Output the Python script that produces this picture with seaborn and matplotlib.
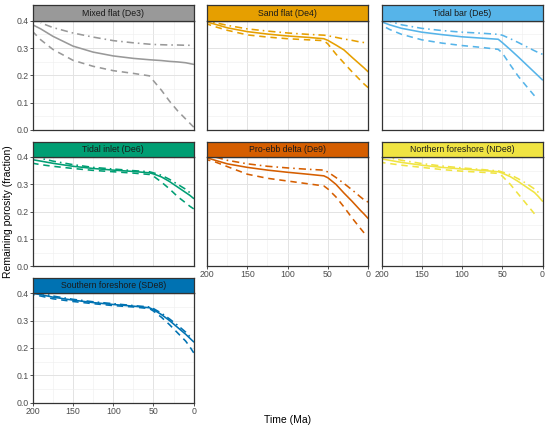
import numpy as np
import pandas as pd
import matplotlib
matplotlib.use("Agg")
import matplotlib.pyplot as plt
import seaborn as sns
from matplotlib.ticker import MultipleLocator

sns.set_theme(style="white")
plt.rcParams["font.family"] = ["Liberation Sans", "DejaVu Sans"]

N = None
TIME = [200, 190, 175, 150, 125, 100, 75, 55, 50, 40, 30, 20, 10, 5, 0]

FACIES = ["Mixed flat (De3)", "Sand flat (De4)", "Tidal bar (De5)", "Tidal inlet (De6)",
          "Pro-ebb delta (De9)", "Northern foreshore (NDe8)", "Southern foreshore (SDe8)"]
COLORS = ["#999999", "#E69F00", "#56B4E9", "#009E73", "#D55E00", "#F0E442", "#0072B2"]
CASES = ["solid", "dashed", "dotdash"]

# Mixed flat (De3)
DE3_SOLID = [0.385, 0.37, 0.343, 0.307, 0.285, 0.271, 0.262, 0.257, 0.256, 0.254, 0.251, 0.249, 0.246, 0.243, 0.240]
DE3_DASHED = [0.36, 0.33, 0.295, 0.255, 0.233, 0.217, 0.207, 0.198, 0.18, 0.145, 0.105, 0.07, 0.04, 0.025, 0.01]
DE3_DOTDASH = [N, 0.392, 0.375, 0.355, 0.34, 0.327, 0.319, 0.314, 0.313, 0.312, 0.311, 0.311, 0.31, 0.31, N]
# Sand flat (De4)
DE4_SOLID = [0.395, 0.387, 0.374, 0.36, 0.351, 0.344, 0.339, 0.334, 0.328, 0.311, 0.293, 0.266, 0.24, 0.227, 0.213]
DE4_DASHED = [0.388, 0.378, 0.365, 0.348, 0.34, 0.334, 0.33, 0.327, 0.315, 0.278, 0.245, 0.213, 0.183, 0.168, 0.155]
DE4_DOTDASH = [0.399, 0.393, 0.383, 0.37, 0.362, 0.355, 0.35, 0.347, 0.345, 0.339, 0.333, 0.328, 0.322, 0.32, N]
# Tidal bar (De5)
DE5_SOLID = [0.396, 0.385, 0.372, 0.358, 0.349, 0.341, 0.336, 0.332, 0.32, 0.294, 0.267, 0.239, 0.211, 0.197, 0.183]
DE5_DASHED = [0.384, 0.368, 0.35, 0.33, 0.318, 0.309, 0.302, 0.295, 0.282, 0.238, 0.196, 0.16, 0.125, N, N]
DE5_DOTDASH = [N, 0.398, 0.385, 0.372, 0.364, 0.358, 0.354, 0.35, 0.347, 0.334, 0.32, 0.305, 0.29, 0.283, 0.277]
# Tidal inlet (De6)
DE6_SOLID = [0.39, 0.385, 0.377, 0.366, 0.358, 0.352, 0.347, 0.342, 0.338, 0.327, 0.31, 0.29, 0.27, 0.26, 0.248]
DE6_DASHED = [0.377, 0.372, 0.366, 0.358, 0.351, 0.346, 0.341, 0.336, 0.33, 0.308, 0.283, 0.255, 0.232, 0.22, 0.21]
DE6_DOTDASH = [N, 0.395, 0.385, 0.372, 0.362, 0.356, 0.35, 0.346, 0.342, 0.333, 0.318, 0.3, 0.282, 0.27, N]
# Pro-ebb delta (De9)
DE9_SOLID = [0.397, 0.388, 0.375, 0.362, 0.352, 0.344, 0.337, 0.331, 0.324, 0.3, 0.268, 0.238, 0.206, 0.191, 0.175]
DE9_DASHED = [0.39, 0.382, 0.365, 0.337, 0.322, 0.312, 0.302, 0.294, 0.283, 0.254, 0.217, 0.177, 0.14, 0.122, N]
DE9_DOTDASH = [N, 0.4, 0.388, 0.375, 0.366, 0.36, 0.355, 0.352, 0.345, 0.325, 0.303, 0.28, 0.255, 0.243, 0.235]
# Northern foreshore (NDe8)
NDE8_SOLID = [0.393, 0.388, 0.38, 0.37, 0.362, 0.356, 0.351, 0.346, 0.341, 0.328, 0.31, 0.29, 0.27, 0.255, 0.238]
NDE8_DASHED = [0.38, 0.376, 0.37, 0.362, 0.354, 0.348, 0.344, 0.34, 0.33, 0.3, 0.264, 0.228, 0.192, N, N]
NDE8_DOTDASH = [N, 0.397, 0.388, 0.376, 0.367, 0.36, 0.354, 0.349, 0.345, 0.335, 0.32, 0.303, 0.283, 0.27, N]
# Southern foreshore (SDe8)
SDE8_SOLID = [0.4, 0.395, 0.386, 0.375, 0.366, 0.359, 0.353, 0.347, 0.34, 0.322, 0.3, 0.275, 0.25, 0.236, 0.222]
SDE8_DASHED = [0.395, 0.39, 0.38, 0.37, 0.362, 0.355, 0.35, 0.344, 0.335, 0.312, 0.285, 0.255, 0.225, 0.205, 0.182]
SDE8_DOTDASH = [N, 0.4, 0.39, 0.378, 0.369, 0.362, 0.355, 0.35, 0.344, 0.327, 0.306, 0.283, 0.258, 0.242, N]

SERIES = [
    (DE3_SOLID, DE3_DASHED, DE3_DOTDASH),
    (DE4_SOLID, DE4_DASHED, DE4_DOTDASH),
    (DE5_SOLID, DE5_DASHED, DE5_DOTDASH),
    (DE6_SOLID, DE6_DASHED, DE6_DOTDASH),
    (DE9_SOLID, DE9_DASHED, DE9_DOTDASH),
    (NDE8_SOLID, NDE8_DASHED, NDE8_DOTDASH),
    (SDE8_SOLID, SDE8_DASHED, SDE8_DOTDASH),
]

rows = []
for fac, trio in zip(FACIES, SERIES):
    for case, vals in zip(CASES, trio):
        for t, v in zip(TIME, vals):
            if v is not None:
                rows.append({"facies": fac, "case": case, "time": t, "porosity": v})
df = pd.DataFrame(rows)

W, H = 550, 429
fig = plt.figure(figsize=(W / 100, H / 100), dpi=100)

col_left = [32.7, 207.1, 381.5]
pw = 161.0
row_top = [20.7, 157.0, 293.3]
ph = 109.2
sh = 15.3
edge = "#333333"
dash_map = {"solid": "", "dashed": (4, 3), "dotdash": (1, 2.5, 4.5, 2.5)}

for i, (fac, col) in enumerate(zip(FACIES, COLORS)):
    r, c = divmod(i, 3)
    l, t = col_left[c], row_top[r]
    ax = fig.add_axes([l / W, 1 - (t + ph) / H, pw / W, ph / H])
    sub = df[df["facies"] == fac]
    sns.lineplot(data=sub, x="time", y="porosity", style="case", style_order=CASES,
                 dashes=dash_map, color=col, linewidth=1.15, legend=False, ax=ax)
    ax.set_xlim(200, 0)
    ax.set_ylim(0, 0.4)
    ax.xaxis.set_major_locator(MultipleLocator(50))
    ax.xaxis.set_minor_locator(MultipleLocator(25))
    ax.yaxis.set_major_locator(MultipleLocator(0.1))
    ax.yaxis.set_minor_locator(MultipleLocator(0.05))
    ax.grid(which="major", color="#E3E3E3", linewidth=0.7)
    ax.grid(which="minor", color="#EEEEEE", linewidth=0.4)
    ax.set_axisbelow(True)
    for s in ax.spines.values():
        s.set_color(edge)
        s.set_linewidth(0.9)
    ax.set_xlabel("")
    ax.set_ylabel("")
    show_x = (i >= 4)
    show_y = (c == 0)
    ax.tick_params(axis="x", which="major", bottom=show_x, labelbottom=show_x,
                   length=2, width=0.6, color=edge, pad=1, labelsize=6.3, labelcolor="#4D4D4D")
    ax.tick_params(axis="y", which="major", left=show_y, labelleft=show_y,
                   length=2, width=0.6, color=edge, pad=1, labelsize=6.3, labelcolor="#4D4D4D")
    ax.tick_params(which="minor", length=0)
    if show_y:
        ax.set_yticklabels([f"{v:.1f}" for v in ax.get_yticks()])
    if show_x:
        ax.set_xticklabels([f"{int(v)}" for v in ax.get_xticks()])

    sax = fig.add_axes([l / W, 1 - t / H, pw / W, sh / H])
    sax.set_facecolor(col)
    sax.set_xticks([])
    sax.set_yticks([])
    for s in sax.spines.values():
        s.set_color(edge)
        s.set_linewidth(0.9)
    sax.text(0.5, 0.5, fac, ha="center", va="center", fontsize=6.3, color="#1A1A1A",
             transform=sax.transAxes)

fig.text(8 / W, 1 - 211.5 / H, "Remaining porosity (fraction)", rotation=90,
         ha="center", va="center", fontsize=7.5, color="black")
fig.text(287.6 / W, 1 - 420 / H, "Time (Ma)", ha="center", va="center",
         fontsize=7.5, color="black")

fig.savefig("out.png", dpi=100)
